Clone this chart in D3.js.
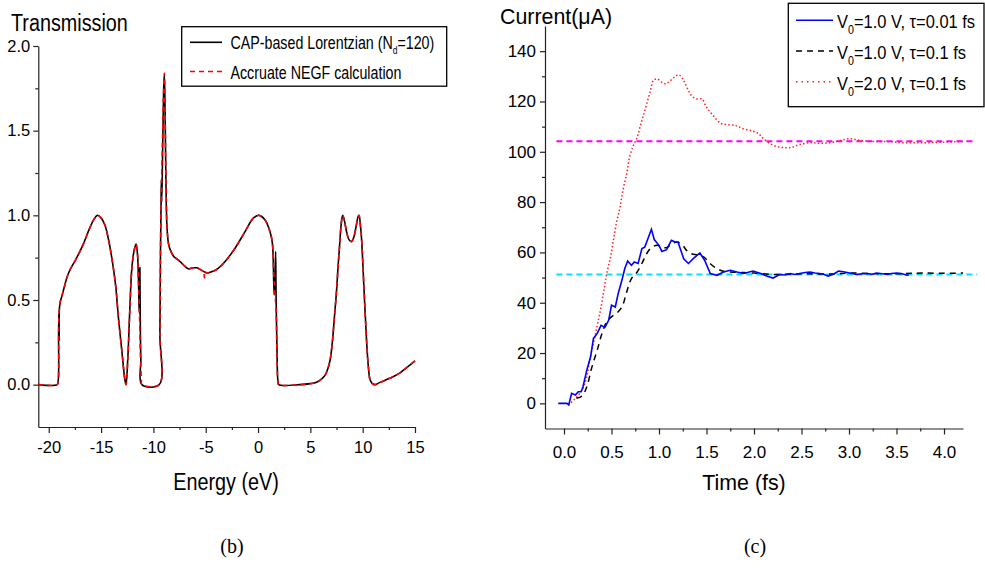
<!DOCTYPE html>
<html>
<head>
<meta charset="utf-8">
<script src="https://cdn.jsdelivr.net/npm/d3@7"></script>
<style>
  html, body { margin: 0; padding: 0; background: #fff; }
  svg { display: block; }
  text { fill: #000; }
</style>
</head>
<body>
<svg id="chart" width="985" height="580"></svg>
<script>
// ---------------- Panel (b): Transmission ----------------
const energyCAP = [-21.0,-19.2,-19.1,-19.06,-19.03,-19.01,-18.98,-18.9,-18.76,-18.5,-18.28,-17.96,-17.5,-17.0,-16.7,-16.05,-15.7,-15.36,-15.0,-14.62,-14.3,-13.98,-13.6,-13.35,-13.0,-12.75,-12.62,-12.45,-12.25,-12.07,-11.85,-11.66,-11.52,-11.42,-11.36,-11.31,-11.29,-11.26,-11.2,-11.1,-9.45,-9.38,-9.32,-9.27,-9.24,-9.2,-9.1,-9.0,-8.95,-8.88,-8.8,-8.7,-8.55,-8.35,-8.09,-7.93,-7.5,-7.0,-6.66,-6.2,-5.86,-5.38,-4.9,-4.5,-3.95,-3.15,-2.2,-1.24,-0.45,0.09,0.67,1.14,1.37,1.5,1.55,1.62,1.68,1.72,1.8,1.9,1.98,4.0,5.0,5.6,6.0,6.4,6.7,6.9,7.1,7.3,7.51,7.65,7.77,7.95,8.09,8.25,8.47,8.7,8.95,9.15,9.36,9.55,9.65,9.8,9.9,10.13,10.38,10.55,10.7,10.9,11.18,11.6,12.29,13.0,13.57,14.2,14.6,15.0];
const transCAP  = [0,0,0.02,0.30,0.42,0.26,0.45,0.49,0.52,0.58,0.63,0.68,0.73,0.79,0.83,0.93,0.975,1.0,0.985,0.94,0.86,0.75,0.58,0.40,0.19,0.04,0.0,0.15,0.45,0.68,0.79,0.83,0.77,0.60,0.45,0.42,0.69,0.42,0.15,0.0,0.0,0.3,0.8,1.05,1.21,1.08,1.45,1.78,1.83,1.6,1.2,0.93,0.83,0.79,0.76,0.75,0.73,0.70,0.684,0.69,0.69,0.675,0.66,0.665,0.68,0.727,0.806,0.904,0.983,1.0,0.973,0.904,0.836,0.60,0.53,0.60,0.786,0.55,0.25,0.02,0.0,0.0,0.006,0.014,0.03,0.055,0.10,0.15,0.25,0.40,0.56,0.70,0.80,0.95,1.0,0.97,0.90,0.855,0.845,0.87,0.93,0.99,1.0,0.93,0.855,0.56,0.25,0.10,0.03,0.008,0.0,0.012,0.03,0.05,0.07,0.10,0.12,0.14];

const energyNEGF = [-21.0,-19.2,-19.1,-19.05,-18.98,-18.9,-18.76,-18.5,-18.28,-17.96,-17.5,-17.0,-16.7,-16.05,-15.7,-15.36,-15.0,-14.62,-14.3,-13.98,-13.6,-13.35,-13.0,-12.75,-12.62,-12.45,-12.25,-12.07,-11.85,-11.66,-11.52,-11.42,-11.33,-11.25,-11.15,-11.1,-9.45,-9.38,-9.3,-9.15,-9.0,-8.95,-8.88,-8.8,-8.7,-8.55,-8.35,-8.09,-7.93,-7.5,-7.0,-6.66,-6.2,-5.86,-5.38,-5.2,-5.12,-5.05,-4.9,-4.5,-3.95,-3.15,-2.2,-1.24,-0.45,0.09,0.67,1.14,1.37,1.5,1.6,1.72,1.8,1.9,1.98,4.0,5.0,5.6,6.0,6.4,6.7,6.9,7.1,7.3,7.51,7.65,7.77,7.95,8.09,8.25,8.47,8.7,8.95,9.15,9.36,9.55,9.65,9.8,9.9,10.13,10.38,10.55,10.7,10.9,11.18,11.6,12.29,13.0,13.57,14.2,14.6,15.0];
const transNEGF  = [0,0,0.02,0.35,0.46,0.49,0.52,0.58,0.63,0.68,0.73,0.79,0.83,0.93,0.975,1.0,0.985,0.94,0.86,0.75,0.58,0.40,0.19,0.04,0.0,0.15,0.45,0.68,0.79,0.83,0.77,0.60,0.42,0.2,0.03,0.0,0.0,0.3,0.9,1.4,1.78,1.84,1.6,1.2,0.93,0.83,0.79,0.76,0.75,0.73,0.70,0.684,0.69,0.69,0.675,0.665,0.63,0.665,0.66,0.665,0.68,0.727,0.806,0.904,0.983,1.0,0.973,0.904,0.836,0.65,0.55,0.45,0.2,0.02,0.0,0.0,0.006,0.014,0.03,0.055,0.10,0.15,0.25,0.40,0.56,0.70,0.80,0.95,1.0,0.97,0.90,0.855,0.845,0.87,0.93,0.99,1.0,0.93,0.855,0.56,0.25,0.10,0.03,0.008,0.0,0.012,0.03,0.05,0.07,0.10,0.12,0.14];

const energyTicks = [-20,-15,-10,-5,0,5,10,15];
const energyMinor = [-17.5,-12.5,-7.5,-2.5,2.5,7.5,12.5];
const transTicks = [0.0,0.5,1.0,1.5,2.0];
const transMinor = [0.25,0.75,1.25,1.75];

// ---------------- Panel (c): Current ----------------
const timeA = [-0.06,0.03,0.05,0.08,0.12,0.15,0.18,0.2,0.24,0.28,0.31,0.35,0.39,0.43,0.47,0.5,0.54,0.57,0.61,0.64,0.67,0.71,0.74,0.78,0.82,0.85,0.89,0.92,0.95,1.0,1.03,1.08,1.13,1.17,1.2,1.23,1.26,1.31,1.36,1.43,1.48,1.54,1.61,1.68,1.75,1.82,1.89,1.99,2.07,2.14,2.2,2.27,2.33,2.38,2.43,2.48,2.54,2.59,2.64,2.69,2.74,2.78,2.84,2.89,2.94,2.98,3.03,3.08,3.14,3.19,3.24,3.29,3.35,3.4,3.45,3.5,3.55,3.61,3.63];
const currentA = [0,0,-0.6,4,3.3,4.6,4.6,6.6,13.2,18.5,25.8,27.8,31,30.2,33,39,38.3,43.6,49,53.6,56.6,54.9,56.2,55.6,61.5,62.1,66.1,69.2,65.1,62.8,60.4,61.1,64.8,64.1,64.1,60.8,57.5,55.6,57.5,59.8,56.9,51.6,50.9,52.2,52.9,52.2,51.6,52.6,51.6,50.5,49.8,51.2,51.0,51.6,51.2,51.6,52.0,52.2,51.8,51.6,51.2,50.6,51.4,52.6,52.3,52.0,51.6,51.2,51.5,51.6,51.3,51.8,51.5,51.3,51.6,51.8,51.6,50.9,51.0];

const timeB = [0.13,0.19,0.24,0.29,0.35,0.4,0.45,0.5,0.55,0.61,0.66,0.71,0.77,0.82,0.87,0.92,0.98,1.03,1.08,1.13,1.19,1.25,1.29,1.34,1.41,1.47,1.54,1.61,1.68,1.75,1.89,2.0,2.2,2.5,2.8,3.0,3.3,3.6,3.78,4.0,4.2];
const currentB = [2,2.9,6.6,13.9,21.2,27.8,32.4,34.4,35.7,38.3,44.3,49.6,52.2,55.6,59.5,61.9,62.8,62.1,61.9,63.2,64.1,62.8,60.8,59.5,59.0,58.2,55.5,53.6,52.5,52.2,52.0,51.8,51.2,51.5,51.4,51.8,51.5,51.6,51.8,51.7,51.8];

const timeC = [0.045,0.12,0.19,0.24,0.27,0.31,0.35,0.39,0.42,0.45,0.49,0.52,0.55,0.59,0.62,0.66,0.69,0.73,0.77,0.8,0.83,0.87,0.91,0.94,0.98,1.03,1.07,1.12,1.17,1.21,1.26,1.31,1.35,1.4,1.45,1.5,1.57,1.65,1.72,1.81,1.89,1.99,2.05,2.1,2.17,2.24,2.33,2.4,2.48,2.59,2.69,2.8,2.91,3.01,3.12,3.26,3.44,3.57,3.78,3.99,4.2];
const currentC = [-0.7,2,5.3,10.6,17.2,23.8,31,38.3,45,51.6,58.2,64.8,71.4,78,84.6,91.3,97.9,102.5,105.8,109.8,113.7,119,124.3,128.3,129,127.6,127,128.3,129.9,130.6,128.3,124.3,122,121,121,117.7,114.4,111.3,110.8,110.4,109.1,108.2,107.1,105.2,103.2,102.1,101.6,101.8,102.9,103.6,103.4,103.6,104.5,105.2,104.5,104.1,104,103.6,103.6,103.8,104.1];

const steadyLevels = [104.2, 51.2];
const steadyTimes = [[-0.08, 4.3], [-0.08, 4.35]];

const timeTicks = [0.0,0.5,1.0,1.5,2.0,2.5,3.0,3.5,4.0];
const timeMinor = [0.25,0.75,1.25,1.75,2.25,2.75,3.25,3.75];
const currentTicks = [0,20,40,60,80,100,120,140];
const currentMinor = [10,30,50,70,90,110,130];

// ---------------- Drawing ----------------
const svg = d3.select("#chart");
const FONT = '"Liberation Sans", Arial, sans-serif';
const SERIF = '"Liberation Serif", "Times New Roman", serif';
const AXIS = "#222";

function sText(g, x, y, size, sx, anchor) {
  return g.append("text")
    .attr("transform", `translate(${x},${y}) scale(${sx},1)`)
    .style("font-family", FONT)
    .style("font-size", size + "px")
    .attr("text-anchor", anchor || "start");
}

const hyphen = f => v => f(v).replace("\u2212", "-");

function drawAxes(xS, yS, xMaj, xMin, yMaj, yMin, xFmt, yFmt, xPad, yPad, fs) {
  const x0 = xS.range()[0], y0 = yS.range()[0];
  const gx = svg.append("g").attr("transform", `translate(0,${y0})`)
    .call(d3.axisBottom(xS).tickValues(xMaj).tickFormat(xFmt).tickSize(6).tickSizeOuter(0).tickPadding(xPad));
  svg.append("g").attr("transform", `translate(0,${y0})`)
    .call(d3.axisBottom(xS).tickValues(xMin).tickFormat("").tickSize(3).tickSizeOuter(0))
    .select(".domain").remove();
  const gy = svg.append("g").attr("transform", `translate(${x0},0)`)
    .call(d3.axisLeft(yS).tickValues(yMaj).tickFormat(yFmt).tickSize(5).tickSizeOuter(0).tickPadding(yPad));
  svg.append("g").attr("transform", `translate(${x0},0)`)
    .call(d3.axisLeft(yS).tickValues(yMin).tickFormat("").tickSize(3).tickSizeOuter(0))
    .select(".domain").remove();
  svg.selectAll(".domain, .tick line").attr("stroke", AXIS).attr("stroke-width", 1.2);
  [gx, gy].forEach(g => g.selectAll("text")
    .style("font-family", FONT).style("font-size", fs + "px").attr("fill", "#111"));
}

// Panel (b)
const xE = d3.scaleLinear().domain([-21, 15]).range([38.3, 415]);
const yT = d3.scaleLinear().domain([-0.25, 2.0]).range([427, 46]);
drawAxes(xE, yT, energyTicks, energyMinor, transTicks, transMinor,
  hyphen(d3.format("d")), d3.format(".1f"), 8, 3, 16.5);

const lineE = (xs, ys) => d3.line().curve(d3.curveCatmullRom.alpha(0.5))
  .x((d, i) => xE(xs[i])).y((d, i) => yT(ys[i]))(xs);

svg.append("path").attr("d", lineE(energyCAP, transCAP))
  .attr("fill", "none").attr("stroke", "#000").attr("stroke-width", 1.6);
svg.append("path").attr("d", lineE(energyNEGF, transNEGF))
  .attr("fill", "none").attr("stroke", "#ff0000").attr("stroke-width", 1.6)
  .attr("stroke-dasharray", "5,4");

sText(svg, 11, 30.5, 23, 0.86).text("Transmission");
sText(svg, 226, 490, 23, 0.86, "middle").text("Energy (eV)");

// legend (b)
const lb = svg.append("g");
lb.append("rect").attr("x", 181.7).attr("y", 26.7).attr("width", 265).attr("height", 59.5)
  .attr("fill", "#fff").attr("stroke", "#000").attr("stroke-width", 1.3);
lb.append("line").attr("x1", 190).attr("x2", 222).attr("y1", 42.3).attr("y2", 42.3)
  .attr("stroke", "#000").attr("stroke-width", 1.6);
lb.append("line").attr("x1", 190).attr("x2", 222).attr("y1", 71.5).attr("y2", 71.5)
  .attr("stroke", "#ff0000").attr("stroke-width", 1.6).attr("stroke-dasharray", "5,4");
const t1 = sText(lb, 230.5, 49, 18.5, 0.77);
t1.append("tspan").text("CAP-based Lorentzian (N");
t1.append("tspan").style("font-size", "11px").attr("dy", 5).text("d");
t1.append("tspan").attr("dy", -5).text("=120)");
sText(lb, 230.5, 78.5, 18.5, 0.77).text("Accruate NEGF calculation");

// Panel (c)
const xt = d3.scaleLinear().domain([-0.2, 4.2]).range([545, 963]);
const yI = d3.scaleLinear().domain([-10, 150]).range([428.5, 26]);
drawAxes(xt, yI, timeTicks, timeMinor, currentTicks, currentMinor,
  d3.format(".1f"), d3.format("d"), 11, 4, 17);

const lineT = (xs, ys, curve) => d3.line().curve(curve || d3.curveLinear)
  .x((d, i) => xt(xs[i])).y((d, i) => yI(ys[i]))(xs);

// steady-state reference lines
svg.append("path").attr("d", lineT(steadyTimes[0], [steadyLevels[0], steadyLevels[0]]))
  .attr("stroke", "#ff00ff").attr("stroke-width", 2).attr("stroke-dasharray", "6,4").attr("fill", "none");
svg.append("path").attr("d", lineT(steadyTimes[1], [steadyLevels[1], steadyLevels[1]]))
  .attr("stroke", "#00e5ff").attr("stroke-width", 2).attr("stroke-dasharray", "6,4").attr("fill", "none");

svg.append("path").attr("d", lineT(timeC, currentC, d3.curveCatmullRom.alpha(0.5)))
  .attr("fill", "none").attr("stroke", "#ff2020").attr("stroke-width", 1.5).attr("stroke-dasharray", "1.5,2.2");
svg.append("path").attr("d", lineT(timeB, currentB, d3.curveCatmullRom.alpha(0.5)))
  .attr("fill", "none").attr("stroke", "#000").attr("stroke-width", 1.5).attr("stroke-dasharray", "6,5");
svg.append("path").attr("d", lineT(timeA, currentA))
  .attr("fill", "none").attr("stroke", "#0000ff").attr("stroke-width", 1.6);

sText(svg, 500, 23.5, 23, 0.93).text("Current(μA)");
sText(svg, 744, 489.5, 23, 0.93, "middle").text("Time (fs)");

// legend (c)
const lc = svg.append("g");
lc.append("rect").attr("x", 788.3).attr("y", 3.3).attr("width", 195.7).attr("height", 103.4)
  .attr("fill", "#fff").attr("stroke", "#000").attr("stroke-width", 1.3);
const legC = [
  {v: "1.0", tau: "0.01", color: "#0000ff", dash: null, w: 1.6},
  {v: "1.0", tau: "0.1", color: "#000", dash: "6,5", w: 1.5},
  {v: "2.0", tau: "0.1", color: "#ff2020", dash: "1.5,4", w: 1.5}
];
legC.forEach((d, i) => {
  const ly = 20.3 + i * 30.7;
  const ln = lc.append("line").attr("x1", 796).attr("x2", 833).attr("y1", ly).attr("y2", ly)
    .attr("stroke", d.color).attr("stroke-width", d.w);
  if (d.dash) ln.attr("stroke-dasharray", d.dash);
  const t = sText(lc, 837, ly + 8, 18.5, 0.89);
  t.append("tspan").text("V");
  t.append("tspan").style("font-size", "12px").attr("dy", 6).text("0");
  t.append("tspan").attr("dy", -6).text(`=${d.v} V, τ=${d.tau} fs`);
});

// panel labels
svg.append("text").attr("x", 232).attr("y", 553).attr("text-anchor", "middle")
  .style("font-family", SERIF).style("font-size", "20px").text("(b)");
svg.append("text").attr("x", 755).attr("y", 553).attr("text-anchor", "middle")
  .style("font-family", SERIF).style("font-size", "20px").text("(c)");
</script>
</body>
</html>
